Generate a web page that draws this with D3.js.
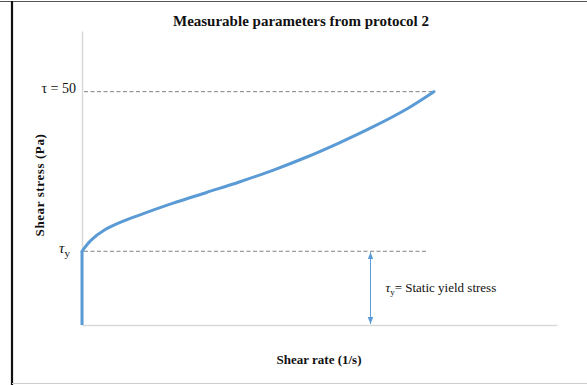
<!DOCTYPE html>
<html>
<head>
<meta charset="utf-8">
<script src="https://cdn.jsdelivr.net/npm/d3@7"></script>
<style>
  html, body { margin: 0; padding: 0; background: #fff; }
  svg { display: block; }
</style>
</head>
<body>
<svg id="chart" width="587" height="385"></svg>
<script>
// Flow curve: shear rate (arbitrary units) vs shear stress (Pa)
const flowRate   = [0, 2.6, 6.5, 11.2, 16.5, 25.9, 35.4, 44.9, 54.4, 63.9, 73.3, 82.8, 92.3, 100];
const flowStress = [15.8, 18.2, 20.4, 22.1, 23.6, 26.1, 28.4, 30.7, 33.2, 36.0, 39.1, 42.5, 46.3, 50];
const yieldStress = 15.8;   // static yield stress
const peakStress  = 50;     // stress at the end of the ramp
const rateMax   = 135;
const stressMax = 63;
const annotationRate = 82;  // position of the yield-stress marker
const titleText = "Measurable parameters from protocol 2";
const xLabel = "Shear rate (1/s)";
const yLabel = "Shear stress (Pa)";

const svg = d3.select("#chart");
const serif = "'Liberation Serif', 'Times New Roman', serif";
const blue = "#5b9bd5";

const x = d3.scaleLinear().domain([0, rateMax]).range([82, 557]);
const y = d3.scaleLinear().domain([0, stressMax]).range([325, 31]);

// outer frame
svg.append("line").attr("x1", 0).attr("x2", 587).attr("y1", 1.5).attr("y2", 1.5)
  .attr("stroke", "#555").attr("stroke-width", 1.2);
svg.append("line").attr("x1", 12).attr("x2", 12).attr("y1", 1).attr("y2", 385)
  .attr("stroke", "#111").attr("stroke-width", 2.2);
svg.append("line").attr("x1", 12).attr("x2", 587).attr("y1", 383.5).attr("y2", 383.5)
  .attr("stroke", "#ccc").attr("stroke-width", 1);

// axes (lines only, no ticks)
const xAxis = svg.append("g").attr("transform", `translate(0,${y(0)})`)
  .call(d3.axisBottom(x).tickValues([]).tickSizeOuter(0));
const yAxis = svg.append("g").attr("transform", `translate(${x(0)},0)`)
  .call(d3.axisLeft(y).tickValues([]).tickSizeOuter(0));
[xAxis, yAxis].forEach(g => g.select(".domain").attr("stroke", "#d9d9d9").attr("stroke-width", 1.5));

// reference levels
const dash = "4,2.5";
svg.append("line")
  .attr("x1", x(0) + 2).attr("x2", x(100.4))
  .attr("y1", y(peakStress)).attr("y2", y(peakStress))
  .attr("stroke", "#808080").attr("stroke-width", 1).attr("stroke-dasharray", dash);
svg.append("line")
  .attr("x1", x(0) + 2).attr("x2", x(98.3))
  .attr("y1", y(yieldStress)).attr("y2", y(yieldStress))
  .attr("stroke", "#808080").attr("stroke-width", 1).attr("stroke-dasharray", dash);

// stress curve: vertical rise to the yield stress, then the flow branch
const line = d3.line().x(d => x(d[0])).y(d => y(d[1]));
svg.append("path")
  .datum([[0, 0], [0, yieldStress]])
  .attr("d", line)
  .attr("fill", "none").attr("stroke", blue).attr("stroke-width", 3);
svg.append("path")
  .datum(flowRate.map((r, i) => [r, flowStress[i]]))
  .attr("d", line.curve(d3.curveCatmullRom.alpha(0.5)))
  .attr("fill", "none").attr("stroke", blue).attr("stroke-width", 3)
  .attr("stroke-linecap", "round");

// double-headed arrow marking the yield stress
const defs = svg.append("defs");
["start", "end"].forEach(k => {
  defs.append("marker").attr("id", "arr-" + k)
    .attr("viewBox", "0 0 10 10").attr("refX", 10).attr("refY", 5)
    .attr("markerWidth", 7).attr("markerHeight", 7)
    .attr("orient", k === "end" ? "auto" : "auto-start-reverse")
    .append("path").attr("d", "M0,1 L10,5 L0,9 Z").attr("fill", blue);
});
svg.append("line")
  .attr("x1", x(annotationRate)).attr("x2", x(annotationRate))
  .attr("y1", y(yieldStress) + 1).attr("y2", y(0) - 1)
  .attr("stroke", blue).attr("stroke-width", 1)
  .attr("marker-start", "url(#arr-start)").attr("marker-end", "url(#arr-end)");

// annotation text
const note = svg.append("text")
  .attr("x", x(annotationRate) + 15).attr("y", y(yieldStress / 2) + 4)
  .attr("font-family", serif).attr("font-size", 13).attr("fill", "#111");
note.append("tspan").attr("font-style", "italic").text("τ");
note.append("tspan").attr("font-size", 9).attr("dy", 3).text("y");
note.append("tspan").attr("dy", -3).text("= Static yield stress");

// level labels
svg.append("text")
  .attr("x", 76).attr("y", y(peakStress) + 1)
  .attr("text-anchor", "end")
  .attr("font-family", serif).attr("font-size", 14).attr("fill", "#111")
  .text("τ = " + peakStress);
const ty = svg.append("text")
  .attr("x", 59).attr("y", y(yieldStress) + 2)
  .attr("font-family", serif).attr("font-size", 15).attr("fill", "#111");
ty.append("tspan").attr("font-style", "italic").text("τ");
ty.append("tspan").attr("font-size", 11).attr("dy", 4).text("y");

// titles
svg.append("text")
  .attr("x", 301).attr("y", 26)
  .attr("text-anchor", "middle")
  .attr("font-family", serif).attr("font-weight", "bold").attr("font-size", 15)
  .attr("fill", "#111")
  .text(titleText);
svg.append("text")
  .attr("x", 319).attr("y", 364)
  .attr("text-anchor", "middle")
  .attr("font-family", serif).attr("font-weight", "bold").attr("font-size", 13)
  .attr("fill", "#111")
  .text(xLabel);
svg.append("text")
  .attr("transform", "translate(44,185) rotate(-90)")
  .attr("text-anchor", "middle")
  .attr("font-family", serif).attr("font-weight", "bold").attr("font-size", 13)
  .attr("letter-spacing", 0.6)
  .attr("fill", "#111")
  .text(yLabel);
</script>
</body>
</html>
